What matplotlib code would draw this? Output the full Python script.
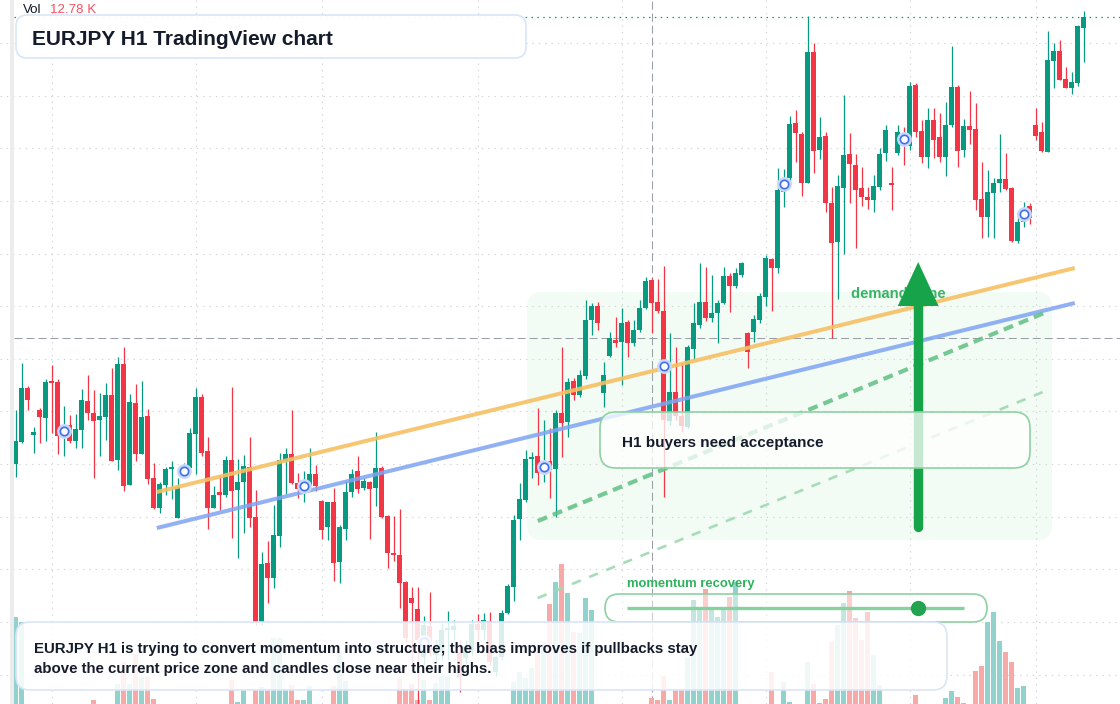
import numpy as np
import matplotlib.pyplot as plt
from matplotlib.patches import FancyBboxPatch, Polygon, Rectangle

plt.rcParams['font.family'] = ['Liberation Sans', 'DejaVu Sans']

# EURJPY H1 candles (price)
open_ = [165.36, 165.58, 166.12, 165.65, 165.90, 165.82, 166.19, 166.18, 165.66, 165.75,
         165.59, 165.70, 165.99, 165.87, 165.80, 165.83, 166.05, 165.40, 166.36, 165.15,
         165.97, 165.46, 165.84, 165.22, 164.92, 165.15, 165.31, 164.82, 165.26, 165.32,
         165.66, 166.03, 165.49, 164.92, 165.08, 165.05, 165.40, 165.10, 165.18, 165.33,
         164.83, 163.78, 164.37, 164.22, 164.64, 165.39, 165.46, 165.17, 165.11, 165.14,
         165.26, 164.99, 164.73, 164.98, 164.38, 164.71, 165.08, 165.29, 165.12, 165.18,
         165.12, 165.32, 164.84, 164.47, 164.45, 164.18, 164.02, 163.91, 163.43, 163.74,
         163.45, 163.48, 163.70, 163.70, 163.48, 163.42, 163.50, 163.76, 163.70, 163.79,
         163.28, 163.43, 163.87, 164.13, 164.81, 165.00, 165.41, 165.44, 165.30, 165.39,
         165.31, 165.87, 165.78, 166.19, 166.05, 166.24, 166.80, 166.94, 166.07, 166.44,
         166.60, 166.58, 166.78, 166.57, 166.70, 166.92, 167.20, 166.98, 166.89, 165.79,
         166.08, 165.84, 165.73, 166.51, 166.75, 166.98, 166.82, 166.87, 166.97, 167.24,
         167.14, 167.25, 166.67, 166.68, 166.80, 167.03, 167.41, 167.32, 168.08, 168.22,
         168.77, 168.66, 168.17, 169.48, 168.50, 168.64, 167.97, 167.58, 168.12, 168.46,
         168.35, 168.12, 168.03, 168.00, 168.13, 168.47, 168.17, 168.47, 168.63, 168.54,
         169.15, 168.69, 168.43, 168.80, 168.63, 168.43, 168.75, 169.13, 168.50, 168.74,
         168.71, 168.01, 167.83, 168.07, 168.17, 168.21, 168.12, 167.59, 167.78, 167.94,
         168.75, 168.68, 168.48, 169.39, 169.49, 169.21, 169.12, 169.17, 169.72]
high = [165.90, 166.37, 166.14, 165.73, 165.92, 166.21, 166.35, 166.21, 165.94, 165.85,
        165.86, 166.11, 166.25, 166.10, 166.07, 166.17, 166.32, 166.43, 166.53, 166.06,
        166.16, 166.19, 165.91, 165.37, 165.18, 165.33, 165.39, 165.22, 165.37, 165.72,
        166.12, 166.06, 165.63, 165.14, 165.25, 165.44, 166.13, 165.41, 165.45, 165.63,
        165.10, 164.48, 164.59, 164.95, 165.47, 165.52, 165.90, 165.27, 165.29, 165.52,
        165.35, 165.00, 164.98, 165.12, 164.75, 165.19, 165.31, 165.44, 165.22, 165.19,
        165.68, 165.34, 164.85, 164.84, 164.91, 164.19, 164.13, 164.13, 163.84, 164.08,
        163.60, 163.77, 163.89, 163.80, 163.60, 163.60, 163.80, 163.86, 163.87, 163.88,
        163.44, 163.90, 164.16, 164.85, 165.17, 165.50, 165.48, 165.92, 165.80, 165.72,
        165.90, 166.53, 166.22, 166.22, 166.30, 167.00, 166.97, 166.98, 166.38, 166.68,
        166.83, 166.92, 166.80, 166.80, 167.00, 167.23, 167.22, 167.21, 167.34, 166.67,
        166.53, 166.38, 166.55, 166.97, 167.37, 167.33, 167.25, 167.00, 167.33, 167.27,
        167.32, 167.38, 166.68, 166.85, 167.07, 167.45, 167.42, 168.32, 168.31, 168.84,
        168.90, 168.68, 169.84, 169.57, 168.83, 168.68, 168.13, 168.25, 169.05, 168.67,
        168.46, 168.33, 168.13, 168.25, 168.52, 168.75, 168.33, 168.75, 168.73, 169.18,
        169.17, 168.80, 168.92, 168.92, 168.87, 168.98, 169.54, 169.15, 168.81, 169.09,
        168.97, 168.38, 168.30, 168.22, 168.66, 168.47, 168.13, 167.89, 167.98, 167.97,
        168.92, 168.78, 169.69, 169.57, 169.60, 169.33, 169.28, 169.75, 169.89]
low = [165.23, 165.57, 165.90, 165.47, 165.57, 165.59, 165.67, 165.46, 165.44, 165.57,
       165.52, 165.52, 165.80, 165.22, 165.44, 165.60, 165.39, 165.30, 165.09, 165.15,
       165.39, 165.46, 165.16, 164.91, 164.87, 165.05, 165.01, 164.82, 165.24, 165.32,
       165.26, 165.44, 164.71, 164.92, 164.90, 165.03, 164.62, 164.42, 164.67, 164.73,
       163.75, 163.75, 163.97, 164.12, 164.53, 165.06, 165.16, 165.02, 164.98, 165.14,
       165.09, 164.61, 164.60, 164.19, 164.17, 164.60, 165.03, 165.07, 165.10, 164.61,
       164.94, 164.82, 164.32, 164.39, 163.92, 163.58, 163.35, 162.96, 163.35, 163.44,
       163.38, 163.40, 163.40, 163.60, 163.08, 163.35, 163.45, 163.60, 163.60, 163.35,
       163.24, 163.40, 163.86, 163.99, 164.60, 164.98, 165.22, 165.15, 165.18, 165.02,
       164.83, 165.43, 165.63, 166.00, 166.03, 166.21, 166.65, 166.70, 165.93, 166.43,
       166.53, 166.15, 166.43, 166.54, 166.68, 166.91, 166.67, 166.87, 165.03, 165.75,
       165.80, 165.68, 165.72, 166.40, 166.72, 166.79, 166.78, 166.57, 166.96, 166.88,
       167.12, 167.23, 166.32, 166.58, 166.77, 166.94, 166.89, 167.27, 167.93, 168.16,
       168.38, 168.04, 168.17, 168.27, 168.41, 167.88, 166.62, 167.01, 167.46, 167.97,
       167.52, 167.94, 167.91, 167.88, 168.10, 168.39, 167.90, 168.45, 168.35, 168.50,
       168.63, 168.37, 168.32, 168.42, 168.38, 168.24, 168.73, 168.33, 168.43, 168.56,
       167.90, 167.62, 167.63, 167.62, 168.08, 168.10, 167.58, 167.57, 167.73, 167.76,
       168.60, 168.48, 168.48, 169.12, 169.20, 169.12, 169.06, 169.14, 169.38]
close = [165.59, 166.12, 166.00, 165.68, 165.83, 166.18, 166.17, 165.64, 165.72, 165.59,
         165.71, 166.00, 165.87, 165.79, 165.84, 166.05, 165.39, 166.36, 165.14, 165.98,
         165.46, 165.83, 165.21, 164.92, 165.16, 165.31, 165.33, 165.13, 165.32, 165.67,
         166.03, 165.47, 164.92, 165.05, 165.05, 165.40, 165.09, 165.18, 165.34, 164.82,
         163.78, 164.36, 164.22, 164.65, 165.40, 165.46, 165.17, 165.11, 165.17, 165.26,
         165.14, 164.70, 164.98, 164.37, 164.73, 165.08, 165.26, 165.11, 165.19, 165.11,
         165.32, 164.83, 164.47, 164.45, 164.17, 163.62, 163.97, 163.60, 163.75, 163.50,
         163.48, 163.70, 163.72, 163.74, 163.23, 163.53, 163.76, 163.70, 163.80, 163.38,
         163.43, 163.87, 164.14, 164.80, 165.01, 165.41, 165.43, 165.27, 165.37, 165.30,
         165.87, 165.77, 166.18, 166.05, 166.25, 166.80, 166.94, 166.77, 166.25, 166.62,
         166.57, 166.77, 166.57, 166.70, 166.92, 167.19, 166.97, 166.89, 165.80, 166.08,
         165.84, 165.74, 166.53, 166.77, 166.98, 166.82, 166.87, 166.97, 167.24, 167.14,
         167.27, 167.37, 166.48, 166.81, 167.04, 167.42, 167.32, 168.10, 168.22, 168.76,
         168.67, 168.17, 169.48, 168.49, 168.63, 167.97, 167.57, 168.14, 168.45, 168.36,
         168.10, 168.03, 168.00, 168.14, 168.46, 168.70, 168.15, 168.68, 168.54, 169.14,
         168.68, 168.43, 168.80, 168.60, 168.43, 168.75, 169.13, 168.49, 168.74, 168.70,
         168.00, 167.83, 168.08, 168.17, 168.21, 168.11, 167.59, 167.78, 167.92, 167.82,
         168.64, 168.49, 169.40, 169.49, 169.20, 169.12, 169.18, 169.74, 169.83]
# volume in thousands
volume_k = [9.2, 8.7, 0.3, 0.3, 0.3, 0.3, 0.3, 0.3, 0.3, 0.3,
            0.3, 0.3, 0.3, 0.9, 0.3, 0.3, 0.3, 2.5, 4.7, 2.5,
            5.5, 3.2, 3.2, 1.0, 0.3, 0.3, 0.3, 0.3, 0.3, 0.3,
            0.3, 0.3, 0.3, 0.3, 0.3, 0.3, 2.9, 0.7, 1.9, 0.3,
            1.9, 2.2, 1.9, 7.1, 7.1, 1.9, 2.4, 0.9, 0.9, 2.3,
            0.3, 0.3, 0.3, 2.3, 5.7, 2.8, 0.3, 0.3, 0.3, 0.3,
            0.3, 0.3, 0.3, 0.3, 3.0, 1.9, 2.5, 0.9, 2.9, 0.9,
            2.6, 3.3, 3.2, 0.3, 0.3, 0.3, 0.3, 0.3, 0.3, 0.3,
            0.3, 0.3, 0.3, 2.7, 3.7, 3.1, 4.1, 5.7, 6.5, 10.5,
            12.7, 14.5, 11.6, 7.7, 7.6, 11.1, 9.9, 0.3, 0.3, 0.3,
            0.3, 0.3, 0.3, 0.3, 0.3, 0.3, 1.1, 0.9, 3.3, 0.9,
            1.9, 1.9, 5.1, 10.9, 10.1, 12.0, 10.1, 9.2, 10.2, 11.2,
            12.7, 0.3, 0.3, 0.3, 0.3, 0.3, 3.7, 0.3, 2.7, 0.7,
            0.3, 0.3, 4.7, 2.5, 0.6, 1.0, 6.7, 8.4, 10.6, 11.8,
            9.1, 6.9, 9.7, 5.4, 2.4, 0.3, 0.3, 0.3, 0.3, 0.3,
            1.4, 0.3, 0.3, 0.3, 0.3, 1.1, 1.8, 1.2, 0.6, 0.3,
            3.8, 4.3, 8.7, 9.7, 6.8, 5.7, 4.7, 2.1, 2.3, 0.3,
            0.3, 0.3, 0.3, 0.3, 0.3, 0.3, 0.3, 0.3, 0.3]

# drawings on the chart (bar index, price)
marker_idx = [8, 28, 48, 68, 88, 108, 128, 148, 168]
marker_price = [165.69, 165.29, 165.14, 163.58, 165.33, 166.34, 168.16, 168.61, 167.86]
orange_x, orange_y = [23.5, 176.5], [165.08, 167.32]
blue_x, blue_y = [23.5, 176.5], [164.72, 166.97]
dash_x, dash_y = [87.0, 171.8], [164.79, 166.88]
faint_x, faint_y = [87.0, 172.0], [164.02, 166.10]
zone_x, zone_y = [85.2, 172.7], [164.60, 167.08]
arrow_x, arrow_y = 150.4, [164.73, 167.38]
cross_idx, cross_price = 106, 166.62
vgrid_idx = [6, 30, 51, 77, 101, 125, 149, 170]

W, H = 1120, 704
fig = plt.figure(figsize=(W / 100, H / 100), dpi=100)
fig.patch.set_facecolor('white')

n = len(close)
x = np.arange(n)
o, c, hi, lo = map(np.array, (open_, close, high, low))
up = c >= o
cols = np.where(up, '#089981', '#f23645')

xlim = (-15.8 / 6, (W - 15.8) / 6)
ylim = (170 - H / 100, 170.0)

# bottom layer: grid, zone, crosshair
axg = fig.add_axes([0, 0, 1, 1], zorder=1)
axg.set_xlim(xlim)
axg.set_ylim(ylim)
axg.axis('off')
grid_levels = 169.567 - 0.526 * np.arange(13)
for g in grid_levels:
    axg.axhline(g, color='#d3d3d3', lw=0.8, ls=(0, (1.2, 4.5)), zorder=1)
for g in vgrid_idx:
    axg.axvline(g, color='#d3d3d3', lw=0.8, ls=(0, (1.2, 4.5)), zorder=1)
zone = FancyBboxPatch((zone_x[0], zone_y[0]), zone_x[1] - zone_x[0], zone_y[1] - zone_y[0],
                      boxstyle='round,pad=0,rounding_size=2.5', mutation_aspect=0.06,
                      fc='#f3fbf5', ec='none', zorder=0.5)
axg.add_patch(zone)
axg.axhline(cross_price, xmin=14 / W, color='#9a9ea8', lw=0.75, dashes=(7.7, 3.8), zorder=2)
axg.axvline(cross_idx, color='#9a9ea8', lw=0.75, dashes=(7.7, 3.8), zorder=2)
axg.axhline(close[-1], xmin=14 / W, color='#089981', lw=0.9, ls=(0, (1.2, 3.5)), zorder=2)

# volume layer
axv = fig.add_axes([0, 0, 1, 1], zorder=2, facecolor='none')
axv.set_xlim(xlim)
axv.set_ylim(0.5, 70.9)
axv.axis('off')
vcols = np.where(up, '#92d2cc', '#f7a9a7')
axv.bar(x, volume_k, width=0.78, color=vcols, lw=0)

# price layer
ax = fig.add_axes([0, 0, 1, 1], zorder=3, facecolor='none')
ax.set_xlim(xlim)
ax.set_ylim(ylim)
ax.axis('off')
ax.vlines(x, lo, hi, colors=cols, lw=0.9, zorder=3)
body_lo = np.minimum(o, c)
body_h = np.maximum(np.abs(c - o), 0.015)
ax.bar(x, body_h, bottom=body_lo, width=0.78, color=cols, lw=0, zorder=4)

ax.plot(orange_x, orange_y, color='#f6c064', lw=2.9, alpha=0.9, solid_capstyle='butt', zorder=5)
ax.plot(blue_x, blue_y, color='#7ea4f3', lw=2.9, alpha=0.85, solid_capstyle='butt', zorder=5)
ax.plot(dash_x, dash_y, color='#5fbf82', lw=3.0, alpha=0.85, dashes=(2.4, 1.5), zorder=5)
ax.plot(faint_x, faint_y, color='#9ed9b2', lw=1.9, alpha=0.9, dashes=(3.6, 3.4), zorder=5)

ax.plot(marker_idx, marker_price, 'o', ms=8.5, mfc='none', mec='#c9d8fb', mew=2.2, zorder=6)
ax.plot(marker_idx, marker_price, 'o', ms=6, mfc='white', mec='#3f6ff0', mew=1.2, zorder=7)

ax.text(zone_x[0] + 54, 167.02, 'demand zone', color='#35b563', fontsize=10.6,
        fontweight='bold', va='baseline', zorder=6)
head_base = arrow_y[1] - 0.44
ax.plot([arrow_x, arrow_x], [arrow_y[0], head_base + 0.02], color='#16a34a', lw=6.8,
        solid_capstyle='round', zorder=7)
ax.add_patch(Polygon([[arrow_x - 3.4, head_base], [arrow_x + 3.4, head_base], [arrow_x, arrow_y[1]]],
                     closed=True, fc='#16a34a', ec='none', zorder=7))

# foreground annotations in pixel space
af = fig.add_axes([0, 0, 1, 1], zorder=4, facecolor='none')
af.set_xlim(0, W)
af.set_ylim(H, 0)
af.axis('off')

af.add_patch(Rectangle((10, 0), 4, H, fc='#ececec', ec='none', zorder=1))

def box(x0, y0, x1, y1, r, ec, alpha):
    af.add_patch(FancyBboxPatch((x0, y0), x1 - x0, y1 - y0,
                                boxstyle=f'round,pad=0,rounding_size={r}',
                                fc=(1, 1, 1, alpha), ec=ec, lw=1.2, zorder=3))

dark = '#141b2b'
af.text(23, 13, 'Vol', color='#131722', fontsize=9.6, va='baseline', zorder=5)
af.text(49.5, 13, '12.78 K', color='#f7525f', fontsize=9.6, va='baseline', zorder=5)

box(16, 15, 526, 58, 11, '#d9e5f8', 0.96)
af.text(32, 45, 'EURJPY H1 TradingView chart', color=dark, fontsize=15,
        fontweight='bold', va='baseline', zorder=5)

box(600, 412, 1030, 468, 16, '#8ed1a3', 0.76)
af.text(622, 447, 'H1 buyers need acceptance', color=dark, fontsize=11,
        fontweight='bold', va='baseline', zorder=5)

af.text(627, 587, 'momentum recovery', color='#2fb25c', fontsize=9.4,
        fontweight='bold', va='baseline', zorder=5)
box(605, 594, 987, 622, 14, '#8ed1a3', 0.45)
af.plot([627, 964], [608, 608], color='#86d19f', lw=2.4, solid_capstyle='butt', zorder=4)
af.plot([918], [608], 'o', ms=10, color='#22a34f', zorder=5)

box(16, 622, 947, 690, 14, '#d9e5f8', 0.85)
af.text(34, 653.5, 'EURJPY H1 is trying to convert momentum into structure; the bias improves if pullbacks stay',
        color=dark, fontsize=10.8, fontweight='bold', va='baseline', zorder=5)
af.text(34, 673, 'above the current price zone and candles close near their highs.',
        color=dark, fontsize=10.8, fontweight='bold', va='baseline', zorder=5)

fig.savefig('out.png', dpi=100)
